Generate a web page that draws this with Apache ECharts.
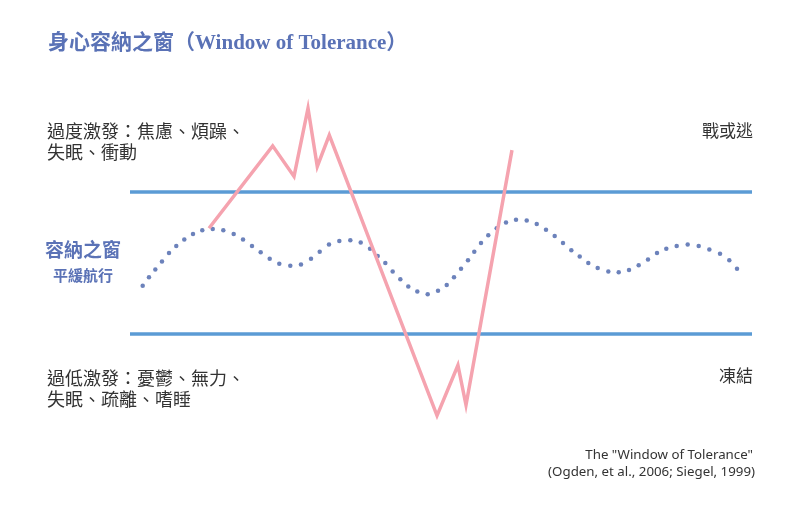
<!DOCTYPE html>
<html>
<head>
<meta charset="utf-8">
<script src="https://cdn.jsdelivr.net/npm/echarts@6/dist/echarts.min.js"></script>
<style>html,body{margin:0;padding:0;background:#fff;}#c{width:812px;height:506px;}</style>
</head>
<body>
<div id="c"></div>
<script>
// time axis 0..100, arousal axis: window bounds at +1 / -1
const windowBounds = [1, -1];
const timeRange = [0, 100];
const calmWave = [
  [2.04,-0.32],[3.05,-0.20],[4.07,-0.09],[5.14,0.02],[6.27,0.14],[7.44,0.24],[8.73,0.33],[10.13,0.41],
  [11.62,0.46],[13.30,0.48],[15.00,0.46],[16.67,0.41],[18.17,0.33],[19.61,0.24],[21.01,0.15],[22.46,0.06],
  [24.00,-0.01],[25.77,-0.04],[27.49,-0.02],[29.10,0.06],[30.50,0.16],[31.99,0.26],[33.65,0.31],[35.42,0.32],
  [37.09,0.29],[38.59,0.20],[39.82,0.10],[41.05,0.00],[42.23,-0.12],[43.46,-0.23],[44.74,-0.33],[46.19,-0.40],
  [47.86,-0.44],[49.52,-0.39],[50.92,-0.31],[52.09,-0.20],[53.22,-0.08],[54.34,0.04],[55.35,0.16],[56.43,0.28],
  [57.60,0.39],[58.95,0.49],[60.45,0.57],[62.06,0.61],[63.78,0.60],[65.39,0.55],[66.88,0.47],[68.28,0.38],
  [69.61,0.28],[70.95,0.18],[72.30,0.09],[73.68,0.00],[75.19,-0.07],[76.90,-0.12],[78.57,-0.13],[80.23,-0.10],
  [81.78,-0.03],[83.28,0.05],[84.73,0.14],[86.22,0.20],[87.89,0.24],[89.66,0.26],[91.43,0.24],[93.14,0.19],
  [94.86,0.13],[96.35,0.04],[97.59,-0.08]
];
const dysregulation = [
  [12.70,0.49],[22.94,1.65],[26.37,1.22],[28.62,2.18],[30.11,1.36],[32.04,1.80],
  [49.36,-2.15],[52.72,-1.44],[54.02,-2.00],[61.41,1.59]
];
const titleText = '身心容納之窗（Window of Tolerance）';
const hyperText = ['過度激發：焦慮、煩躁、', '失眠、衝動'];
const hypoText = ['過低激發：憂鬱、無力、', '失眠、疏離、嗜睡'];
const windowLabel = ['容納之窗', '平緩航行'];
const rightLabels = ['戰或逃', '凍結'];
const citation = ['The "Window of Tolerance"', '(Ogden, et al., 2006; Siegel, 1999)'];

const chart = echarts.init(document.getElementById('c'), null, {renderer: 'canvas'});
const cjk = '"Noto Sans CJK TC", "Noto Sans CJK SC", sans-serif';
const dark = '#333333';
const blueText = '#5a72b6';
chart.setOption({
  animation: false,
  backgroundColor: '#ffffff',
  grid: {left: 130, width: 622, top: 85.5, height: 355},
  xAxis: {type: 'value', min: timeRange[0], max: timeRange[1], show: false},
  yAxis: {type: 'value', min: -2.5, max: 2.5, show: false},
  series: [
    {type: 'line', data: [[timeRange[0], windowBounds[0]], [timeRange[1], windowBounds[0]]], symbol: 'none',
     lineStyle: {color: '#5b9bd5', width: 3.5}, silent: true},
    {type: 'line', data: [[timeRange[0], windowBounds[1]], [timeRange[1], windowBounds[1]]], symbol: 'none',
     lineStyle: {color: '#5b9bd5', width: 3.5}, silent: true},
    {type: 'scatter', data: calmWave, symbol: 'circle', symbolSize: 4.5,
     itemStyle: {color: '#4763aa'}, silent: true},
    {type: 'line', data: dysregulation, symbol: 'none',
     lineStyle: {color: '#f5a3af', width: 3.5, join: 'miter'}, silent: true}
  ],
  graphic: [
    {type: 'text', left: 48, top: 33, style: {text: titleText, font: 'bold 21px "Liberation Serif", "Noto Sans CJK TC", serif', fill: blueText}},
    {type: 'text', left: 47, top: 121, style: {text: hyperText.join('\n'), font: '18px ' + cjk, fill: dark, lineHeight: 21}},
    {type: 'text', left: 47, top: 368, style: {text: hypoText.join('\n'), font: '18px ' + cjk, fill: dark, lineHeight: 21}},
    {type: 'text', x: 83, y: 250, style: {text: windowLabel[0], font: 'bold 19px ' + cjk, fill: blueText, align: 'center', verticalAlign: 'middle'}},
    {type: 'text', x: 83, y: 275, style: {text: windowLabel[1], font: 'bold 15px ' + cjk, fill: blueText, align: 'center', verticalAlign: 'middle'}},
    {type: 'text', x: 753, y: 131, style: {text: rightLabels[0], font: '17px ' + cjk, fill: dark, align: 'right', verticalAlign: 'middle'}},
    {type: 'text', x: 753, y: 376, style: {text: rightLabels[1], font: '17px ' + cjk, fill: dark, align: 'right', verticalAlign: 'middle'}},
    {type: 'text', x: 753, y: 455, style: {text: citation[0], font: '13.3px "Noto Sans", sans-serif', fill: dark, align: 'right', verticalAlign: 'middle'}},
    {type: 'text', x: 755, y: 472, style: {text: citation[1], font: '13.3px "Noto Sans", sans-serif', fill: dark, align: 'right', verticalAlign: 'middle'}}
  ]
});
</script>
</body>
</html>
